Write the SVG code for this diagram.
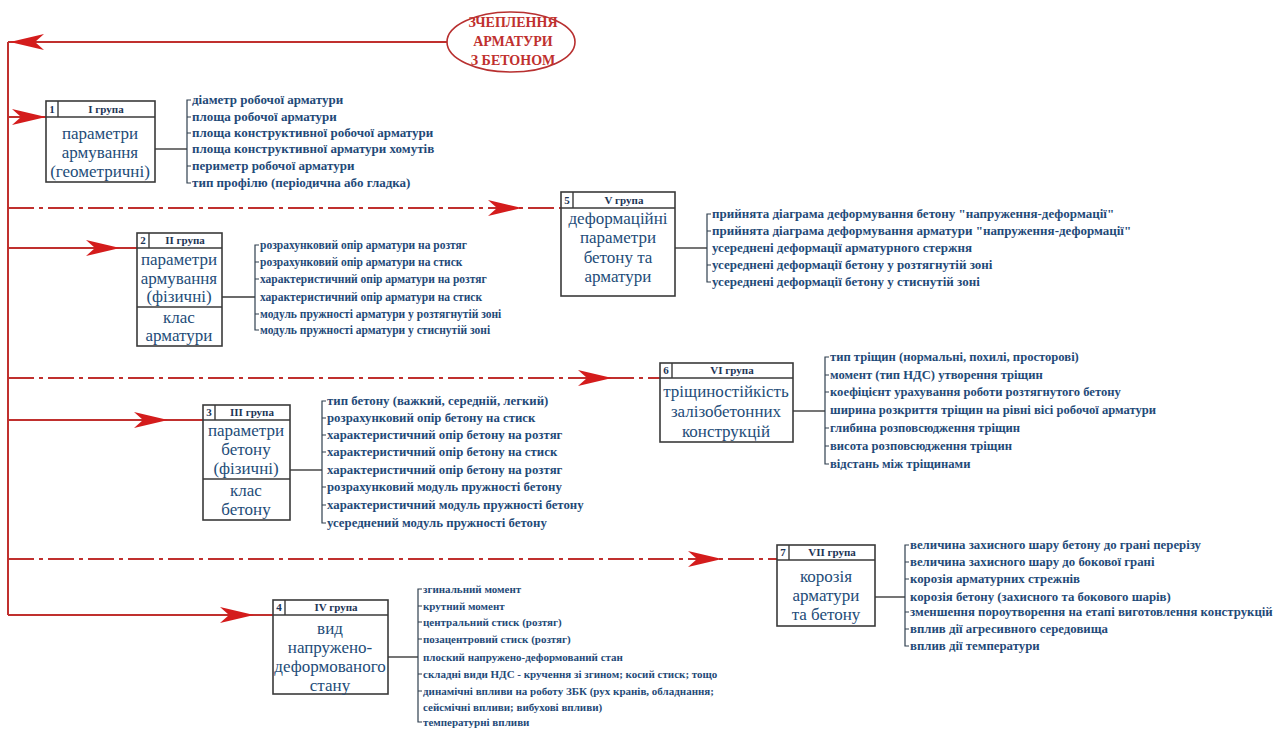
<svg xmlns="http://www.w3.org/2000/svg" width="1280" height="729" viewBox="0 0 1280 729">
<defs>
<style>
.bg{fill:#ffffff}
.red{stroke:#c0302e;stroke-width:2;fill:none}
.dd{stroke:#c0302e;stroke-width:2;fill:none;stroke-dasharray:26 5 4 5}
.ah{fill:#d41c1c}
.box{fill:#ffffff;stroke:#3a3a3a;stroke-width:1.6}
.ln{stroke:#3a3a3a;stroke-width:1.4;fill:none}
.br{stroke:#2f3f4f;stroke-width:1.2;fill:none}
.bt{font-family:'Liberation Serif','Times New Roman',serif;font-size:17px;fill:#234c78;text-anchor:middle}
.hd{font-family:'Liberation Serif','Times New Roman',serif;font-size:11px;font-weight:bold;fill:#1d3556;text-anchor:middle}
.it{font-family:'Liberation Serif','Times New Roman',serif;font-size:12.5px;font-weight:bold;fill:#1f4a78}
.el{font-family:'Liberation Serif','Times New Roman',serif;font-size:14px;font-weight:bold;fill:#c0302e;text-anchor:middle}
#group1 .it,#group5 .it{font-size:13px}
#group2 .it{font-size:11.5px}
#group3 .it,#group7 .it{font-size:12.8px}
#group6 .it{font-size:12.6px}
#group4 .it{font-size:11px}
</style>
<path id="arr" d="M0,-8 L34,0 L0,8 L9,0 Z"/>
</defs>
<rect class="bg" x="0" y="0" width="1280" height="729"/>

<g id="connectors">
<line class="red" x1="8" y1="42" x2="449" y2="42"/>
<line class="red" x1="8" y1="42" x2="8" y2="615"/>
<use href="#arr" class="ah" transform="translate(44,42) scale(-1,1)"/>
<line class="red" x1="8" y1="117" x2="46" y2="117"/>
<use href="#arr" class="ah" transform="translate(12,117)"/>
<line class="dd" x1="8" y1="208" x2="561" y2="208"/>
<use href="#arr" class="ah" transform="translate(488,208)"/>
<line class="red" x1="8" y1="248" x2="137" y2="248"/>
<use href="#arr" class="ah" transform="translate(86,248)"/>
<line class="dd" x1="8" y1="378" x2="660" y2="378"/>
<use href="#arr" class="ah" transform="translate(578,378)"/>
<line class="red" x1="8" y1="420" x2="203" y2="420"/>
<use href="#arr" class="ah" transform="translate(134,420)"/>
<line class="dd" x1="8" y1="559" x2="777" y2="559"/>
<use href="#arr" class="ah" transform="translate(688,559)"/>
<line class="red" x1="8" y1="615" x2="273" y2="615"/>
<use href="#arr" class="ah" transform="translate(220,615)"/>
<line class="ln" x1="155" y1="149" x2="187" y2="149"/>
<line class="ln" x1="675" y1="248" x2="707" y2="248"/>
<line class="ln" x1="222" y1="297" x2="255" y2="297"/>
<line class="ln" x1="793" y1="411" x2="825" y2="411"/>
<line class="ln" x1="290" y1="470" x2="322" y2="470"/>
<line class="ln" x1="875" y1="597" x2="905" y2="597"/>
<line class="ln" x1="388" y1="657" x2="418" y2="657"/>
</g>

<g id="root">
<ellipse cx="511" cy="42" rx="64" ry="30" fill="#ffffff" stroke="#b83030" stroke-width="1.6"/>
<text class="el" x="513" y="27">ЗЧЕПЛЕННЯ</text>
<text class="el" x="513" y="46">АРМАТУРИ</text>
<text class="el" x="513" y="65">З БЕТОНОМ</text>
</g>

<g id="group1">
<rect class="box" x="46" y="101" width="109" height="81"/>
<line class="ln" x1="46" y1="117" x2="155" y2="117"/>
<line class="ln" x1="58" y1="101" x2="58" y2="117"/>
<text class="hd" x="52" y="113">1</text>
<text class="hd" x="106" y="113">I група</text>
<text class="bt" x="100" y="139">параметри</text>
<text class="bt" x="100" y="158">армування</text>
<text class="bt" x="100" y="177">(геометричні)</text>
<path class="br" d="M191,100 H187 V183 H191 M187,117 H191 M187,133 H191 M187,166 H191"/>
<text class="it" x="192" y="104">діаметр робочої арматури</text>
<text class="it" x="192" y="121">площа робочої арматури</text>
<text class="it" x="192" y="137">площа конструктивної робочої арматури</text>
<text class="it" x="192" y="153">площа конструктивної арматури хомутів</text>
<text class="it" x="192" y="170">периметр робочої арматури</text>
<text class="it" x="192" y="187">тип профілю (періодична або гладка)</text>
</g>

<g id="group5">
<rect class="box" x="561" y="192" width="114" height="104"/>
<line class="ln" x1="561" y1="208" x2="675" y2="208"/>
<line class="ln" x1="573" y1="192" x2="573" y2="208"/>
<text class="hd" x="567" y="204">5</text>
<text class="hd" x="624" y="204">V група</text>
<text class="bt" x="618" y="224">деформаційні</text>
<text class="bt" x="618" y="243">параметри</text>
<text class="bt" x="618" y="263">бетону та</text>
<text class="bt" x="618" y="282">арматури</text>
<path class="br" d="M711,214 H707 V282 H711 M707,231 H711 M707,265 H711"/>
<text class="it" x="712" y="218">прийнята діаграма деформування бетону "напруження-деформації"</text>
<text class="it" x="712" y="235">прийнята діаграма деформування арматури "напруження-деформації"</text>
<text class="it" x="712" y="252">усереднені деформації арматурного стержня</text>
<text class="it" x="712" y="269">усереднені деформації бетону у розтягнутій зоні</text>
<text class="it" x="712" y="286">усереднені деформації бетону у стиснутій зоні</text>
</g>

<g id="group2">
<rect class="box" x="137" y="233" width="85" height="113"/>
<line class="ln" x1="137" y1="248" x2="222" y2="248"/>
<line class="ln" x1="149" y1="233" x2="149" y2="248"/>
<line class="ln" x1="137" y1="307" x2="222" y2="307"/>
<text class="hd" x="143" y="244">2</text>
<text class="hd" x="185" y="244">II група</text>
<text class="bt" x="179" y="265">параметри</text>
<text class="bt" x="179" y="284">армування</text>
<text class="bt" x="179" y="302">(фізичні)</text>
<text class="bt" x="179" y="323">клас</text>
<text class="bt" x="179" y="341">арматури</text>
<path class="br" d="M259,245 H255 V330 H259 M255,262 H259 M255,279 H259 M255,314 H259"/>
<text class="it" x="260" y="249">розрахунковий опір арматури на розтяг</text>
<text class="it" x="260" y="266">розрахунковий опір арматури на стиск</text>
<text class="it" x="260" y="283">характеристичний опір арматури на розтяг</text>
<text class="it" x="260" y="301">характеристичний опір арматури на стиск</text>
<text class="it" x="260" y="318">модуль пружності арматури у розтягнутій зоні</text>
<text class="it" x="260" y="334">модуль пружності арматури у стиснутій зоні</text>
</g>

<g id="group6">
<rect class="box" x="660" y="363" width="133" height="79"/>
<line class="ln" x1="660" y1="378" x2="793" y2="378"/>
<line class="ln" x1="672" y1="363" x2="672" y2="378"/>
<text class="hd" x="666" y="374">6</text>
<text class="hd" x="732" y="374">VI група</text>
<text class="bt" x="726" y="397">тріщиностійкість</text>
<text class="bt" x="726" y="417">залізобетонних</text>
<text class="bt" x="726" y="437">конструкцій</text>
<path class="br" d="M829,357 H825 V464 H829 M825,375 H829 M825,392 H829 M825,428 H829 M825,446 H829"/>
<text class="it" x="830" y="361">тип тріщин (нормальні, похилі, просторові)</text>
<text class="it" x="830" y="379">момент (тип НДС) утворення тріщин</text>
<text class="it" x="830" y="396">коефіцієнт урахування роботи розтягнутого бетону</text>
<text class="it" x="830" y="414">ширина розкриття тріщин на рівні вісі робочої арматури</text>
<text class="it" x="830" y="432">глибина розповсюдження тріщин</text>
<text class="it" x="830" y="450">висота розповсюдження тріщин</text>
<text class="it" x="830" y="468">відстань між тріщинами</text>
</g>

<g id="group3">
<rect class="box" x="203" y="405" width="87" height="115"/>
<line class="ln" x1="203" y1="420" x2="290" y2="420"/>
<line class="ln" x1="215" y1="405" x2="215" y2="420"/>
<line class="ln" x1="203" y1="479" x2="290" y2="479"/>
<text class="hd" x="209" y="416">3</text>
<text class="hd" x="252" y="416">III група</text>
<text class="bt" x="246" y="436">параметри</text>
<text class="bt" x="246" y="455">бетону</text>
<text class="bt" x="246" y="474">(фізичні)</text>
<text class="bt" x="246" y="496">клас</text>
<text class="bt" x="246" y="515">бетону</text>
<path class="br" d="M326,401 H322 V523 H326 M322,418 H326 M322,435 H326 M322,452 H326 M322,487 H326 M322,505 H326"/>
<text class="it" x="327" y="405">тип бетону (важкий, середній, легкий)</text>
<text class="it" x="327" y="422">розрахунковий опір бетону на стиск</text>
<text class="it" x="327" y="439">характеристичний опір бетону на розтяг</text>
<text class="it" x="327" y="456">характеристичний опір бетону на стиск</text>
<text class="it" x="327" y="474">характеристичний опір бетону на розтяг</text>
<text class="it" x="327" y="491">розрахунковий модуль пружності бетону</text>
<text class="it" x="327" y="509">характеристичний модуль пружності бетону</text>
<text class="it" x="327" y="527">усереднений модуль пружності бетону</text>
</g>

<g id="group7">
<rect class="box" x="777" y="545" width="98" height="81"/>
<line class="ln" x1="777" y1="560" x2="875" y2="560"/>
<line class="ln" x1="789" y1="545" x2="789" y2="560"/>
<text class="hd" x="783" y="556">7</text>
<text class="hd" x="832" y="556">VII група</text>
<text class="bt" x="826" y="582">корозія</text>
<text class="bt" x="826" y="601">арматури</text>
<text class="bt" x="826" y="620">та бетону</text>
<path class="br" d="M909,545 H905 V646 H909 M905,562 H909 M905,579 H909 M905,612 H909 M905,629 H909"/>
<text class="it" x="910" y="549">величина захисного шару бетону до грані перерізу</text>
<text class="it" x="910" y="566">величина захисного шару до бокової грані</text>
<text class="it" x="910" y="583">корозія арматурних стрежнів</text>
<text class="it" x="910" y="601">корозія бетону (захисного та бокового шарів)</text>
<text class="it" x="910" y="616">зменшення пороутворення на етапі виготовлення конструкцій</text>
<text class="it" x="910" y="633">вплив дії агресивного середовища</text>
<text class="it" x="910" y="650">вплив дії температури</text>
</g>

<g id="group4">
<rect class="box" x="273" y="600" width="115" height="94"/>
<line class="ln" x1="273" y1="615" x2="388" y2="615"/>
<line class="ln" x1="285" y1="600" x2="285" y2="615"/>
<text class="hd" x="279" y="611">4</text>
<text class="hd" x="336" y="611">IV група</text>
<text class="bt" x="330" y="634">вид</text>
<text class="bt" x="330" y="653">напружено-</text>
<text class="bt" x="330" y="672">деформованого</text>
<text class="bt" x="330" y="691">стану</text>
<path class="br" d="M422,589 H418 V722 H422 M418,606 H422 M418,622 H422 M418,639 H422 M418,674 H422 M418,691 H422"/>
<text class="it" x="423" y="593">згинальний момент</text>
<text class="it" x="423" y="610">крутний момент</text>
<text class="it" x="423" y="626">центральний стиск (розтяг)</text>
<text class="it" x="423" y="643">позацентровий стиск (розтяг)</text>
<text class="it" x="423" y="661">плоский напружено-деформований стан</text>
<text class="it" x="423" y="678">складні види НДС - кручення зі згином; косий стиск; тощо</text>
<text class="it" x="423" y="695">динамічні впливи на роботу ЗБК (рух кранів, обладнання;</text>
<text class="it" x="423" y="711">сейсмічні впливи; вибухові впливи)</text>
<text class="it" x="423" y="726">температурні впливи</text>
</g>
</svg>
